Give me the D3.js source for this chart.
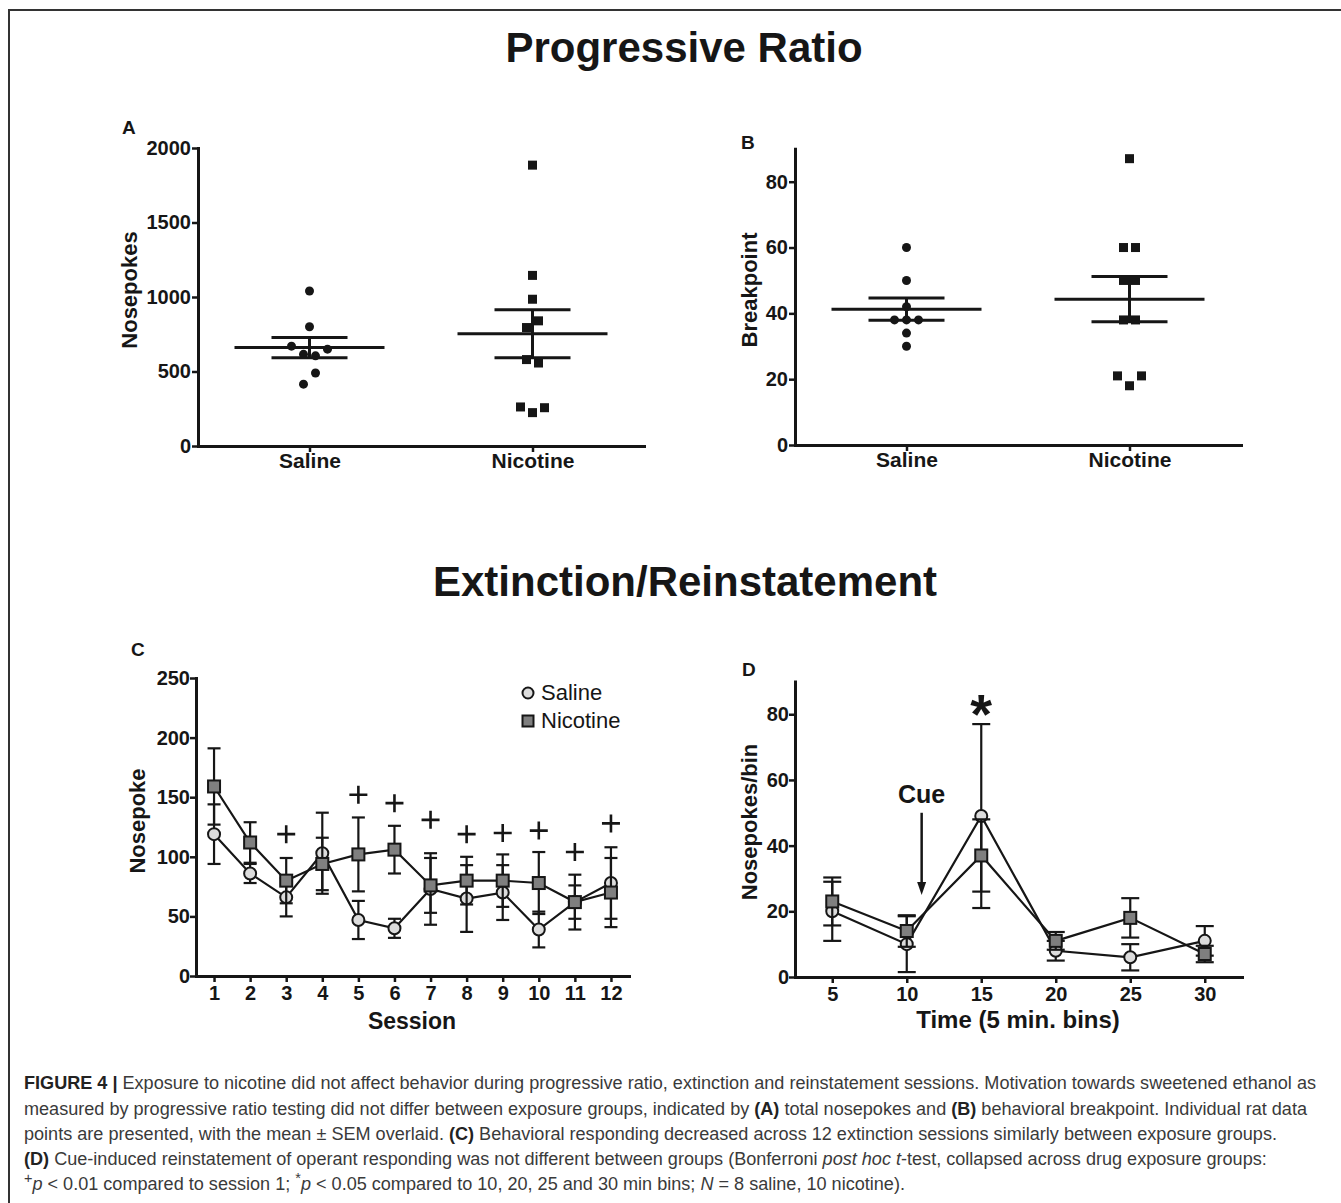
<!DOCTYPE html>
<html><head><meta charset="utf-8">
<script src="https://cdn.jsdelivr.net/npm/d3@7"></script>
<style>
body{margin:0;background:#fff}
svg{display:block}
text{font-family:"Liberation Sans",Arial,sans-serif}
</style></head>
<body><svg id="chart" width="1341" height="1203"></svg>
<script>
// ---------------- DATA ----------------
const groups = ["Saline", "Nicotine"];
// Panel A: total nosepokes per rat
const nosepokesSaline   = [1040, 800, 670, 615, 605, 650, 415, 490];
const nosepokesNicotine = [1885, 1145, 985, 795, 840, 580, 557, 262, 224, 257];
const ticksA = [0, 500, 1000, 1500, 2000];
// Panel B: breakpoint per rat
const breakpointSaline   = [60, 50, 42, 38, 38, 38, 34, 30];
const breakpointNicotine = [87, 60, 60, 50, 50, 38, 38, 21, 18, 21];
const ticksB = [0, 20, 40, 60, 80];
// Panel C: extinction sessions
const sessions = [1, 2, 3, 4, 5, 6, 7, 8, 9, 10, 11, 12];
const salineMeanC   = [119, 86, 66, 103, 47, 40, 73, 65, 70, 39, 62, 78];
const salineSemC    = [25, 8, 16, 34, 16, 8, 30, 28, 23, 15, 14, 30];
const nicotineMeanC = [159, 112, 80, 94, 102, 106, 76, 80, 80, 78, 62, 70];
const nicotineSemC  = [32, 17, 19, 22, 31, 20, 23, 20, 22, 26, 23, 29];
const ticksC = [0, 50, 100, 150, 200, 250];
const plusSessions = [3, 5, 6, 7, 8, 9, 10, 11, 12];
const plusLevels   = [119, 152, 145, 131, 119, 120, 122, 104, 128];
// Panel D: reinstatement bins
const bins = [5, 10, 15, 20, 25, 30];
const salineMeanD   = [20, 10, 49, 8, 6, 11];
const salineSemD    = [9, 8.5, 28, 3, 4, 4.5];
const nicotineMeanD = [23, 14, 37, 11, 18, 7];
const nicotineSemD  = [7.3, 4.8, 11, 2.7, 6, 2.5];
const ticksD = [0, 20, 40, 60, 80];
const starBin = 15, starLevel = 84;
const cueBin = 11, cueFrom = 50, cueTo = 25, cueTextLevel = 53;
// Caption
const captionLines = [
  [["FIGURE 4 | ", "b"], ["Exposure to nicotine did not affect behavior during progressive ratio, extinction and reinstatement sessions. Motivation towards sweetened ethanol as", ""]],
  [["measured by progressive ratio testing did not differ between exposure groups, indicated by ", ""], ["(A)", "b"], [" total nosepokes and ", ""], ["(B)", "b"], [" behavioral breakpoint. Individual rat data", ""]],
  [["points are presented, with the mean \u00B1 SEM overlaid. ", ""], ["(C)", "b"], [" Behavioral responding decreased across 12 extinction sessions similarly between exposure groups.", ""]],
  [["(D)", "b"], [" Cue-induced reinstatement of operant responding was not different between groups (Bonferroni ", ""], ["post hoc t", "i"], ["-test, collapsed across drug exposure groups:", ""]],
  [["+", "sup"], ["p", "i"], [" < 0.01 compared to session 1; ", ""], ["*", "sup"], ["p", "i"], [" < 0.05 compared to 10, 20, 25 and 30 min bins; ", ""], ["N", "i"], [" = 8 saline, 10 nicotine).", ""]]
];

// ---------------- DRAW ----------------
const svg = d3.select("#chart");
const INK = "#161616";

// frame
svg.append("path").attr("d", "M9,1203V10H1341").attr("fill", "none").attr("stroke", "#333").attr("stroke-width", 2);

// titles
svg.append("text").attr("x", 684).attr("y", 62).attr("text-anchor", "middle")
  .attr("font-size", 42).attr("font-weight", "bold").attr("fill", INK).text("Progressive Ratio");
svg.append("text").attr("x", 685).attr("y", 596).attr("text-anchor", "middle")
  .attr("font-size", 42).attr("font-weight", "bold").attr("fill", INK).text("Extinction/Reinstatement");

function styleAxis(g, fs) {
  g.select(".domain").attr("stroke", INK).attr("stroke-width", 3).attr("stroke-linecap", "square");
  g.selectAll(".tick line").attr("stroke", INK).attr("stroke-width", 2.5);
  g.selectAll(".tick text").attr("fill", INK).attr("font-size", fs).attr("font-weight", "bold")
    .attr("font-family", "'Liberation Sans',Arial,sans-serif");
}

function panelLabel(t, x, y) {
  svg.append("text").attr("x", x).attr("y", y).attr("font-size", 19).attr("font-weight", "bold").attr("fill", INK).text(t);
}
function yTitle(t, x, cy, fs) {
  svg.append("text").attr("transform", `translate(${x},${cy}) rotate(-90)`).attr("text-anchor", "middle")
    .attr("font-size", fs).attr("font-weight", "bold").attr("fill", INK).text(t);
}

function swarmOffsets(values, y, spacing, gap) {
  const idx = values.map((v, i) => i).sort((a, b) => values[a] - values[b]);
  const clusters = []; let cur = [idx[0]];
  for (let k = 1; k < idx.length; k++) {
    const a = idx[k - 1], b = idx[k];
    if (Math.abs(y(values[a]) - y(values[b])) < gap) cur.push(b); else { clusters.push(cur); cur = [b]; }
  }
  clusters.push(cur);
  const off = new Array(values.length).fill(0);
  clusters.forEach(c => { c.sort((a, b) => a - b); c.forEach((i, j) => off[i] = (j - (c.length - 1) / 2) * spacing); });
  return off;
}

function scatterPanel(cfg) {
  const x = d3.scaleLinear().domain([-0.5, 1.5]).range(cfg.xRange);
  const y = d3.scaleLinear().domain(cfg.yDomain).range(cfg.yRange);
  const gx = svg.append("g").attr("transform", `translate(0,${cfg.yRange[0]})`)
    .call(d3.axisBottom(x).tickValues([0, 1]).tickFormat(i => groups[i]).tickSize(6).tickSizeOuter(0).tickPadding(1));
  styleAxis(gx, 21);
  const gy = svg.append("g").attr("transform", `translate(${cfg.xRange[0]},0)`)
    .call(d3.axisLeft(y).tickValues(cfg.ticks).tickFormat(d3.format("d")).tickSize(6).tickSizeOuter(0).tickPadding(1));
  styleAxis(gy, 20);

  [cfg.saline, cfg.nicotine].forEach((vals, gi) => {
    const cx = x(gi);
    const off = swarmOffsets(vals, y, 12, 12);
    const g = svg.append("g");
    if (gi === 0) {
      g.selectAll("circle").data(vals).join("circle")
        .attr("cx", (d, i) => cx + off[i]).attr("cy", d => y(d)).attr("r", 4.5).attr("fill", INK);
    } else {
      g.selectAll("rect").data(vals).join("rect")
        .attr("x", (d, i) => cx + off[i] - 4.5).attr("y", d => y(d) - 4.5)
        .attr("width", 9).attr("height", 9).attr("fill", INK);
    }
    const m = d3.mean(vals), s = d3.deviation(vals) / Math.sqrt(vals.length);
    const lg = svg.append("g").attr("stroke", INK).attr("stroke-width", 3).attr("fill", "none");
    lg.append("line").attr("x1", cx - 75).attr("x2", cx + 75).attr("y1", y(m)).attr("y2", y(m));
    lg.append("line").attr("x1", cx - 38).attr("x2", cx + 38).attr("y1", y(m + s)).attr("y2", y(m + s));
    lg.append("line").attr("x1", cx - 38).attr("x2", cx + 38).attr("y1", y(m - s)).attr("y2", y(m - s));
    lg.append("line").attr("x1", cx).attr("x2", cx).attr("y1", y(m + s)).attr("y2", y(m - s));
  });
}

scatterPanel({ xRange: [198, 644], yDomain: [0, 2000], yRange: [446, 148], ticks: ticksA,
  saline: nosepokesSaline, nicotine: nosepokesNicotine });
scatterPanel({ xRange: [795, 1241], yDomain: [0, 90], yRange: [445, 148.8], ticks: ticksB,
  saline: breakpointSaline, nicotine: breakpointNicotine });
panelLabel("A", 122, 134);
panelLabel("B", 741, 149);
yTitle("Nosepokes", 137, 290, 22);
yTitle("Breakpoint", 757, 290, 22);

function linePanel(cfg) {
  const x = d3.scaleLinear().domain(cfg.xDomain).range(cfg.xRange);
  const y = d3.scaleLinear().domain(cfg.yDomain).range(cfg.yRange);
  const gx = svg.append("g").attr("transform", `translate(0,${cfg.yRange[0]})`)
    .call(d3.axisBottom(x).tickValues(cfg.xs).tickFormat(d3.format("d")).tickSize(6).tickSizeOuter(0).tickPadding(4));
  styleAxis(gx, 20);
  const gy = svg.append("g").attr("transform", `translate(${cfg.xRange[0]},0)`)
    .call(d3.axisLeft(y).tickValues(cfg.ticks).tickFormat(d3.format("d")).tickSize(6).tickSizeOuter(0).tickPadding(0));
  styleAxis(gy, 20);

  cfg.series.forEach(sr => {
    const g = svg.append("g");
    const pts = cfg.xs.map((xv, i) => ({ x: xv, m: sr.mean[i], s: sr.sem[i] }));
    const eb = g.append("g").attr("stroke", INK).attr("stroke-width", 2.2);
    pts.forEach(p => {
      eb.append("line").attr("x1", x(p.x)).attr("x2", x(p.x)).attr("y1", y(p.m + p.s)).attr("y2", y(p.m - p.s));
      [p.m + p.s, p.m - p.s].forEach(v =>
        eb.append("line").attr("x1", x(p.x) - cfg.cap).attr("x2", x(p.x) + cfg.cap).attr("y1", y(v)).attr("y2", y(v)));
    });
    g.append("path").datum(pts).attr("fill", "none").attr("stroke", INK).attr("stroke-width", 2.2)
      .attr("d", d3.line().x(p => x(p.x)).y(p => y(p.m)));
    if (sr.shape === "circle") {
      g.selectAll("circle").data(pts).join("circle").attr("cx", p => x(p.x)).attr("cy", p => y(p.m))
        .attr("r", 6).attr("fill", "#dcdcdc").attr("stroke", INK).attr("stroke-width", 2);
    } else {
      g.selectAll("rect").data(pts).join("rect").attr("x", p => x(p.x) - 6).attr("y", p => y(p.m) - 6)
        .attr("width", 12).attr("height", 12).attr("fill", "#7f7f7f").attr("stroke", INK).attr("stroke-width", 2);
    }
  });
  return { x, y };
}

const C = linePanel({ xDomain: [0.5, 12.5], xRange: [196, 629], yDomain: [0, 250], yRange: [976, 678],
  xs: sessions, ticks: ticksC, cap: 6.5,
  series: [{ mean: salineMeanC, sem: salineSemC, shape: "circle" }, { mean: nicotineMeanC, sem: nicotineSemC, shape: "square" }] });
panelLabel("C", 131, 656);
yTitle("Nosepoke", 145, 821, 22);
svg.append("text").attr("x", 412).attr("y", 1029).attr("text-anchor", "middle").attr("font-size", 23)
  .attr("font-weight", "bold").attr("fill", INK).text("Session");
// plus signs
const pg = svg.append("g").attr("stroke", INK).attr("stroke-width", 2.6);
plusSessions.forEach((s, i) => {
  const px = C.x(s), py = C.y(plusLevels[i]);
  pg.append("path").attr("d", `M${px - 9},${py}H${px + 9}M${px},${py - 9}V${py + 9}`);
});
// legend
svg.append("circle").attr("cx", 528).attr("cy", 693).attr("r", 5.5).attr("fill", "#dcdcdc").attr("stroke", INK).attr("stroke-width", 2);
svg.append("text").attr("x", 541).attr("y", 700).attr("font-size", 22).attr("fill", INK).text(groups[0]);
svg.append("rect").attr("x", 522.5).attr("y", 715.5).attr("width", 11).attr("height", 11).attr("fill", "#7f7f7f").attr("stroke", INK).attr("stroke-width", 2);
svg.append("text").attr("x", 541).attr("y", 728).attr("font-size", 22).attr("fill", INK).text(groups[1]);

const D = linePanel({ xDomain: [2.5, 32.5], xRange: [795, 1242], yDomain: [0, 90], yRange: [977, 681.4],
  xs: bins, ticks: ticksD, cap: 9,
  series: [{ mean: salineMeanD, sem: salineSemD, shape: "circle" }, { mean: nicotineMeanD, sem: nicotineSemD, shape: "square" }] });
panelLabel("D", 742, 676);
yTitle("Nosepokes/bin", 757, 822, 22);
svg.append("text").attr("x", 1018).attr("y", 1028).attr("text-anchor", "middle").attr("font-size", 24)
  .attr("font-weight", "bold").attr("fill", INK).text("Time (5 min. bins)");
// asterisk
svg.append("text").attr("x", D.x(starBin)).attr("y", D.y(starLevel) + 0.57 * 56).attr("text-anchor", "middle")
  .attr("font-size", 56).attr("font-weight", "bold").attr("fill", INK).text("*");
// cue arrow
const ax = D.x(cueBin), ay1 = D.y(cueFrom), ay2 = D.y(cueTo);
svg.append("line").attr("x1", ax).attr("x2", ax).attr("y1", ay1).attr("y2", ay2 - 10).attr("stroke", INK).attr("stroke-width", 2.5);
svg.append("path").attr("d", `M${ax - 4.5},${ay2 - 13}L${ax + 4.5},${ay2 - 13}L${ax},${ay2}Z`).attr("fill", INK);
svg.append("text").attr("x", ax).attr("y", D.y(cueTextLevel)).attr("text-anchor", "middle").attr("font-size", 25)
  .attr("font-weight", "bold").attr("fill", INK).text("Cue");

// caption
const capBase = [1089, 1115, 1140, 1165, 1190];
const capG = svg.append("g").attr("fill", "#3a3a3a");
const capTexts = captionLines.map((line, li) => {
  const t = capG.append("text").attr("x", 24).attr("y", capBase[li]).attr("font-size", 17);
  let shifted = false;
  line.forEach(([str, st]) => {
    const ts = t.append("tspan").text(str);
    if (st === "b") ts.attr("font-weight", "bold").attr("fill", "#222");
    if (st === "i") ts.attr("font-style", "italic");
    if (st === "sup") { ts.attr("class", "sup").attr("dy", -7); shifted = true; }
    else if (shifted) { ts.attr("dy", 7); shifted = false; }
  });
  return t;
});
const w1 = capTexts[0].node().getComputedTextLength();
const fs = 17 * 1293 / w1;
capTexts.forEach(t => {
  t.attr("font-size", fs);
  t.selectAll("tspan.sup").attr("font-size", fs * 0.8);
});
</script>
</body></html>
